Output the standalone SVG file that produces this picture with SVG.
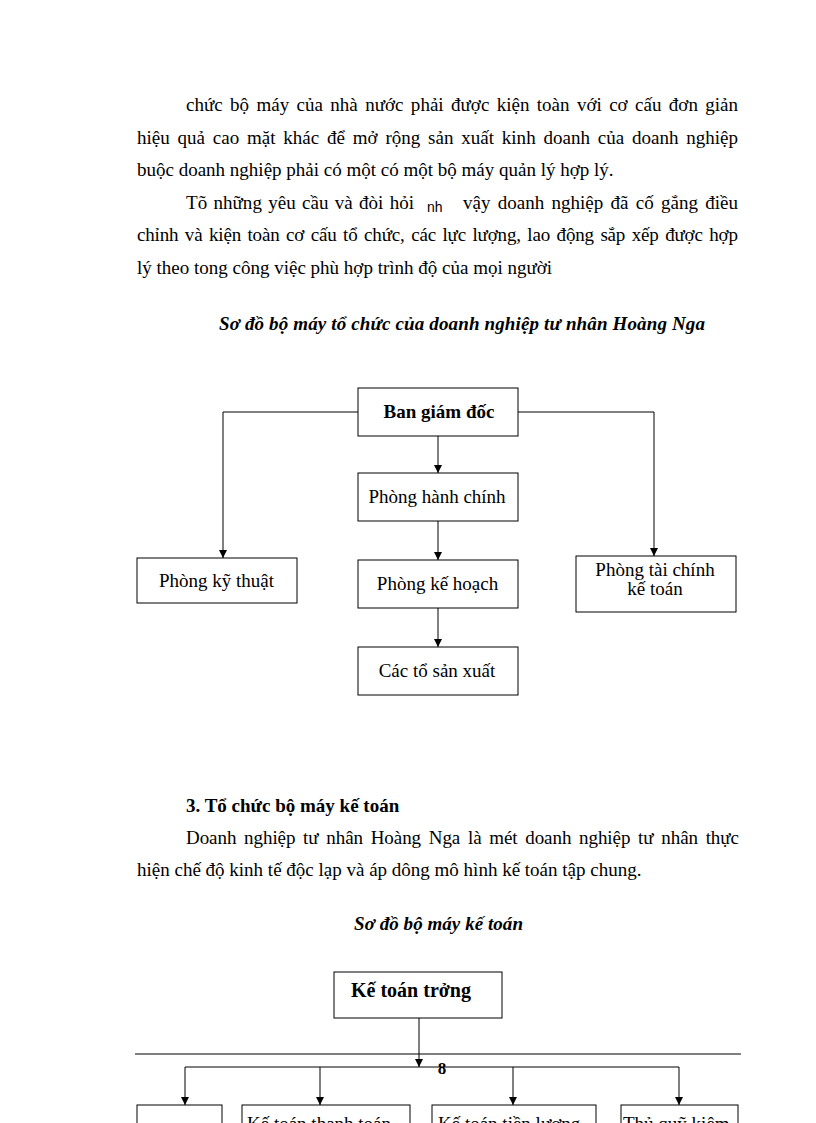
<svg xmlns="http://www.w3.org/2000/svg" width="816" height="1123" viewBox="0 0 816 1123">
<style>
.body{font-family:"Liberation Serif","Times New Roman",serif;font-size:19px;fill:#000}
.bi{font-family:"Liberation Serif","Times New Roman",serif;font-size:19px;font-weight:bold;font-style:italic;fill:#000}
.b{font-family:"Liberation Serif","Times New Roman",serif;font-size:19px;font-weight:bold;fill:#000}
.lbl{font-family:"Liberation Serif","Times New Roman",serif;font-size:19px;fill:#000;text-anchor:middle}
.lblb{font-family:"Liberation Serif","Times New Roman",serif;font-size:19px;font-weight:bold;fill:#000;text-anchor:middle}
.box{fill:#fff;stroke:#000;stroke-width:1}
.con{fill:none;stroke:#000;stroke-width:1}
.sm{font-family:"Liberation Sans",Arial,sans-serif;font-size:14px;fill:#000}
</style>
<defs>
<marker id="ah" markerUnits="userSpaceOnUse" markerWidth="8" markerHeight="9" refX="8" refY="4" orient="auto" viewBox="0 0 8 8">
<path d="M0,0 L8,4 L0,8 z" fill="#000"/>
</marker>
</defs>
<rect x="0" y="0" width="816" height="1123" fill="#fff"/>

<!-- paragraph text -->
<text class="body" x="186" y="111" textLength="552" lengthAdjust="spacing" word-spacing="2.6">chức bộ máy của nhà nước phải được kiện toàn với cơ cấu đơn giản</text>
<text class="body" x="137" y="143.5" textLength="601" lengthAdjust="spacing" word-spacing="3">hiệu quả cao mặt khác để mở rộng sản xuất kinh doanh của doanh nghiệp</text>
<text class="body" x="137" y="176">buộc doanh nghiệp phải có một có một bộ máy quản lý hợp lý.</text>
<text class="body" x="186" y="208.5" textLength="228" lengthAdjust="spacing" word-spacing="1.5">Tõ những yêu cầu và đòi hỏi</text>
<text class="sm" x="427" y="212">nh</text>
<text class="body" x="463" y="208.5" textLength="275" lengthAdjust="spacing" word-spacing="2.5">vậy doanh nghiệp đã cố gắng điều</text>
<text class="body" x="137" y="241" textLength="601" lengthAdjust="spacing" word-spacing="2">chỉnh và kiện toàn cơ cấu tổ chức, các lực lượng, lao động sắp xếp được hợp</text>
<text class="body" x="137" y="273.5">lý theo tong công việc phù hợp trình độ của mọi người</text>

<text class="bi" x="219" y="330" textLength="486" lengthAdjust="spacing">Sơ đồ bộ máy tổ chức của doanh nghiệp tư nhân Hoàng Nga</text>

<!-- diagram 1 connectors -->
<g id="connectors1">
<path class="con" d="M358,412 H223 V558" marker-end="url(#ah)"/>
<path class="con" d="M518,412 H654 V556" marker-end="url(#ah)"/>
<path class="con" d="M438,436 V473" marker-end="url(#ah)"/>
<path class="con" d="M438,521 V560" marker-end="url(#ah)"/>
<path class="con" d="M438,608 V647" marker-end="url(#ah)"/>
</g>

<g id="ban-giam-doc">
<rect class="box" x="358" y="388" width="160" height="48"/>
<text class="lblb" x="439" y="418">Ban giám đốc</text>
</g>
<g id="phong-hanh-chinh">
<rect class="box" x="358" y="473" width="160" height="48"/>
<text class="lbl" x="437" y="503">Phòng hành chính</text>
</g>
<g id="phong-ke-hoach">
<rect class="box" x="358" y="560" width="160" height="48"/>
<text class="lbl" x="437.5" y="590">Phòng kế hoạch</text>
</g>
<g id="cac-to-san-xuat">
<rect class="box" x="358" y="647" width="160" height="48"/>
<text class="lbl" x="437" y="677">Các tổ sản xuất</text>
</g>
<g id="phong-ky-thuat">
<rect class="box" x="137" y="558" width="160" height="45"/>
<text class="lbl" x="216.5" y="587">Phòng kỹ thuật</text>
</g>
<g id="phong-tai-chinh-ke-toan">
<rect class="box" x="576" y="556" width="160" height="56"/>
<text class="lbl" x="655" y="576">Phòng tài chính</text>
<text class="lbl" x="655" y="595">kế toán</text>
</g>

<!-- section 3 -->
<text class="b" x="186" y="812">3. Tổ chức bộ máy kế toán</text>
<text class="body" x="186" y="844" textLength="553" lengthAdjust="spacing" word-spacing="3">Doanh nghiệp tư nhân Hoàng Nga là mét doanh nghiệp tư nhân thực</text>
<text class="body" x="137" y="876">hiện chế độ kinh tế độc lạp và áp dông mô hình kế toán tập chung.</text>
<text class="bi" x="354" y="930" textLength="169" lengthAdjust="spacing">Sơ đồ bộ máy kế toán</text>

<!-- footer line and page number -->
<line x1="135" y1="1054" x2="741" y2="1054" stroke="#000" stroke-width="1"/>
<text class="b" x="442" y="1074" text-anchor="middle" style="font-size:17px">8</text>

<!-- diagram 2 connectors -->
<g id="connectors2">
<path class="con" d="M419,1018 V1067" marker-end="url(#ah)"/>
<path class="con" d="M185,1067 H679"/>
<path class="con" d="M185,1067 V1105" marker-end="url(#ah)"/>
<path class="con" d="M320,1067 V1105" marker-end="url(#ah)"/>
<path class="con" d="M513,1067 V1105" marker-end="url(#ah)"/>
<path class="con" d="M679,1067 V1105" marker-end="url(#ah)"/>
</g>

<g id="ke-toan-truong">
<rect class="box" x="334" y="972" width="168" height="46"/>
<text class="b" x="351" y="997" style="font-size:20px">Kế toán trởng</text>
</g>
<g id="box-1">
<rect class="box" x="137" y="1105" width="85" height="40"/>
</g>
<g id="ke-toan-thanh-toan">
<rect class="box" x="242" y="1105" width="168" height="40"/>
<text class="body" x="247" y="1130">Kế toán thanh toán</text>
</g>
<g id="ke-toan-tien-luong">
<rect class="box" x="432" y="1105" width="164" height="40"/>
<text class="body" x="438" y="1130">Kế toán tiền lương</text>
</g>
<g id="thu-quy">
<rect class="box" x="621" y="1105" width="117" height="40"/>
<text class="body" x="623" y="1130">Thủ quỹ kiêm</text>
</g>
</svg>
